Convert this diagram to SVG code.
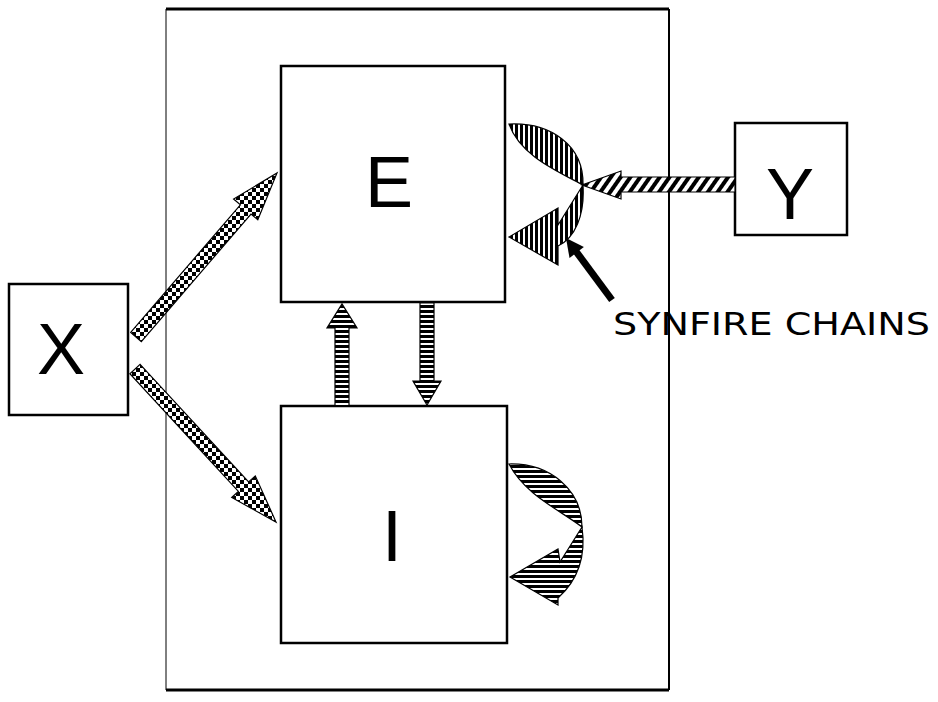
<svg xmlns="http://www.w3.org/2000/svg" width="938" height="702" viewBox="0 0 938 702">
<style>
.box{fill:#fff;stroke:#000;stroke-width:2.5}
.lbl{font-family:"Liberation Sans",Arial,sans-serif;font-size:72px;fill:#000;text-anchor:middle}
.arr{stroke:#000;stroke-width:1.2;stroke-linejoin:miter}
</style>
<defs>
<pattern id="checker" patternUnits="userSpaceOnUse" width="8" height="8">
<rect width="8" height="8" fill="#fff"/>
<rect width="4" height="4" fill="#000"/>
<rect x="4" y="4" width="4" height="4" fill="#000"/>
</pattern>
<pattern id="hstripe" patternUnits="userSpaceOnUse" width="8" height="5">
<rect width="8" height="5" fill="#fff"/>
<rect width="8" height="3" fill="#000"/>
</pattern>
<pattern id="vstripe" patternUnits="userSpaceOnUse" width="5" height="8">
<rect width="5" height="8" fill="#fff"/>
<rect width="3" height="8" fill="#000"/>
</pattern>
<pattern id="dstripe" patternUnits="userSpaceOnUse" width="8" height="8" patternTransform="rotate(35)">
<rect width="8" height="8" fill="#fff"/>
<rect width="4" height="8" fill="#000"/>
</pattern>
</defs>

<g id="frame">
<line x1="166" y1="9" x2="669" y2="9" stroke="#000" stroke-width="3"/>
<line x1="166" y1="690" x2="669" y2="690" stroke="#000" stroke-width="3"/>
<line x1="166" y1="9" x2="166" y2="690" stroke="#000" stroke-width="1"/>
<line x1="669" y1="9" x2="669" y2="690" stroke="#000" stroke-width="2"/>
</g>

<g id="node-X">
<rect class="box" x="9" y="284" width="119" height="131"/>
<text class="lbl" x="61" y="374">X</text>
</g>
<g id="node-E">
<rect class="box" x="281" y="66" width="224" height="236"/>
<text class="lbl" x="389" y="207">E</text>
</g>
<g id="node-I">
<rect class="box" x="281" y="406" width="226" height="237"/>
<text class="lbl" x="392" y="561">I</text>
</g>
<g id="node-Y">
<rect class="box" x="735" y="123" width="112" height="112"/>
<text class="lbl" x="790" y="219">Y</text>
</g>

<g id="connectors">
<polygon class="arr" fill="url(#checker)" points="130.7,332.4 240.4,204.8 233.6,199.0 277,173 257.8,219.8 251.0,214.0 141.3,341.6"/>
<polygon class="arr" fill="url(#checker)" points="140.1,364.3 248.6,482.0 255.3,475.9 276,522 231.7,497.5 238.4,491.4 129.9,373.7"/>
<polygon class="arr" fill="url(#hstripe)" points="335,406 335,328 327,328 342,304 357,328 349,328 349,406"/>
<polygon class="arr" fill="url(#hstripe)" points="420,303 434,303 434,381 441,381 427,405 413,381 420,381"/>
<polygon class="arr" fill="url(#dstripe)" points="735,177 621,177 621,171 582,185 621,199 621,192 735,192"/>
<path class="arr" fill="url(#vstripe)" d="M509,124 C550,122 584,145 583,185 C555,170 520,155 509,124 Z"/>
<path class="arr" fill="url(#vstripe)" d="M583,185 L558,225 L558,208 L509,237 L558,265 L558,246 C575,238 585,215 583,185 Z"/>
<path class="arr" fill="url(#hstripe)" d="M509,464 C550,463 582,490 582,527 C560,510 525,495 509,464 Z"/>
<path class="arr" fill="url(#hstripe)" d="M582,527 L560,562 L558,549 L510,577 L558,605 L558,598 C578,580 586,555 582,527 Z"/>
<line x1="612" y1="300" x2="575" y2="250" stroke="#000" stroke-width="7"/>
<polygon fill="#000" points="566,238 583.9,247.1 569.5,257.9"/>
</g>

<g id="label-synfire">
<text x="613" y="335" font-family="'DejaVu Sans',Verdana,sans-serif" font-size="32" textLength="317" lengthAdjust="spacingAndGlyphs">SYNFIRE CHAINS</text>
</g>
</svg>
